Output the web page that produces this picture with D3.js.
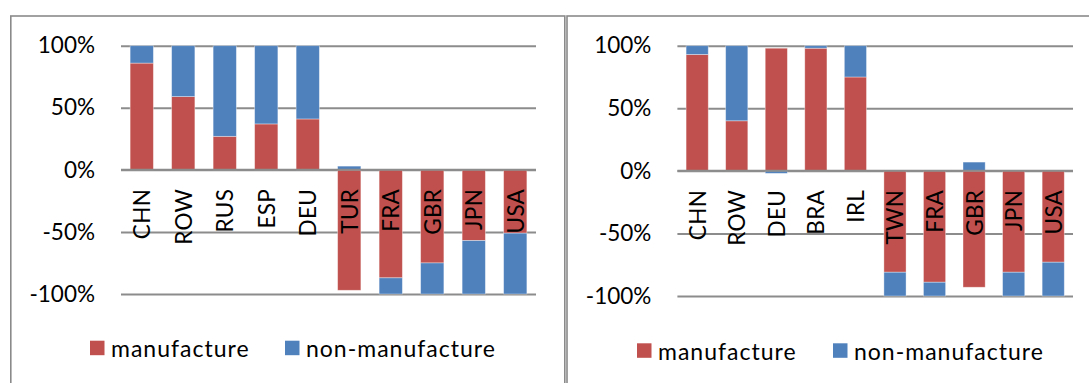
<!DOCTYPE html>
<html>
<head>
<meta charset="utf-8">
<script src="https://cdn.jsdelivr.net/npm/d3@7/dist/d3.min.js"></script>
<style>
  html, body { margin: 0; padding: 0; background: #fff; }
  svg { display: block; }
  text { font-family: Lato, "Open Sans", sans-serif; fill: #000; }
</style>
</head>
<body>
<svg id="chart" width="1089" height="383"></svg>
<script>
// Share of manufacture / non-manufacture, by economy
const seriesNames = ["manufacture", "non-manufacture"];
const yTicks = [-1, -0.5, 0, 0.5, 1];

const leftCategories = ["CHN", "ROW", "RUS", "ESP", "DEU", "TUR", "FRA", "GBR", "JPN", "USA"];
const leftManufacture = [0.86, 0.59, 0.27, 0.37, 0.41, -0.97, -0.87, -0.75, -0.57, -0.51];
const leftNonManufacture = [0.14, 0.41, 0.73, 0.63, 0.59, 0.03, -0.13, -0.25, -0.43, -0.49];

const rightCategories = ["CHN", "ROW", "DEU", "BRA", "IRL", "TWN", "FRA", "GBR", "JPN", "USA"];
const rightManufacture = [0.93, 0.40, 0.98, 0.98, 0.75, -0.81, -0.89, -0.93, -0.81, -0.73];
const rightNonManufacture = [0.07, 0.60, -0.02, 0.02, 0.25, -0.19, -0.11, 0.07, -0.19, -0.27];

const colors = { "manufacture": "#C0504D", "non-manufacture": "#4F81BD" };
const svg = d3.select("#chart");

function drawPanel(opts) {
  const { frame, plot, categories, manufacture, nonManufacture, legend } = opts;

  // panel frame (open at the bottom edge of the page)
  svg.append("rect")
    .attr("x", frame.x).attr("y", frame.y)
    .attr("width", frame.w).attr("height", frame.h)
    .attr("fill", "none").attr("stroke", "#8a8a8a").attr("stroke-width", 1.6);

  const rows = categories.map((c, i) => ({
    category: c,
    "manufacture": manufacture[i],
    "non-manufacture": nonManufacture[i]
  }));

  const x = d3.scaleBand()
    .domain(categories)
    .range([plot.x0, plot.x1])
    .paddingInner(0.44)
    .paddingOuter(0.22);

  const y = d3.scaleLinear()
    .domain([-1, 1])
    .range([plot.yBottom, plot.yTop]);

  const pct = d => Math.round(d * 100) + "%";

  // gridlines + tick labels
  const axis = svg.append("g")
    .attr("transform", `translate(${plot.x0},0)`)
    .call(d3.axisLeft(y)
      .tickValues(yTicks)
      .tickFormat(pct)
      .tickSize(-(plot.x1 - plot.x0))
      .tickPadding(26));
  axis.select(".domain").remove();
  axis.selectAll(".tick line").attr("stroke", "#8c8c8c").attr("stroke-width", 2);
  axis.selectAll(".tick text")
    .attr("font-size", 22.5)
    .attr("font-family", "Lato, sans-serif")
    .attr("fill", "#000");

  const stacked = d3.stack()
    .keys(seriesNames)
    .offset(d3.stackOffsetDiverging)(rows);

  const bars = svg.append("g");
  stacked.forEach(layer => {
    bars.selectAll(null)
      .data(layer)
      .join("rect")
      .attr("x", d => x(d.data.category))
      .attr("width", x.bandwidth())
      .attr("y", d => y(Math.max(d[0], d[1])))
      .attr("height", d => Math.abs(y(d[0]) - y(d[1])))
      .attr("fill", colors[layer.key])
      .attr("stroke", "rgba(255,255,255,0.45)")
      .attr("stroke-width", 0.8);
  });

  // redraw the zero line above the bars
  svg.append("line")
    .attr("x1", plot.x0).attr("x2", plot.x1)
    .attr("y1", y(0)).attr("y2", y(0))
    .attr("stroke", "#8c8c8c").attr("stroke-width", 2);

  // category labels, rotated, hanging below the zero line
  svg.append("g").selectAll("text")
    .data(categories)
    .join("text")
    .attr("transform", d => `translate(${x(d) + x.bandwidth() / 2},${y(0) + 19}) rotate(-90)`)
    .attr("text-anchor", "end")
    .attr("dominant-baseline", "central")
    .attr("font-size", 22.5)
    .attr("letter-spacing", 0.3)
    .text(d => d);

  // legend
  const lg = svg.append("g");
  seriesNames.forEach((name, i) => {
    lg.append("rect")
      .attr("x", legend.x[i]).attr("y", legend.y)
      .attr("width", 14.5).attr("height", 14.5)
      .attr("fill", colors[name]);
    lg.append("text")
      .attr("x", legend.x[i] + 21).attr("y", legend.y + 7.5)
      .attr("dominant-baseline", "central")
      .attr("font-size", 23)
      .attr("letter-spacing", 1)
      .text(name);
  });
}

drawPanel({
  frame: { x: 10.8, y: 16, w: 554, h: 400 },
  plot: { x0: 121, x1: 536, yTop: 45.7, yBottom: 294 },
  categories: leftCategories,
  manufacture: leftManufacture,
  nonManufacture: leftNonManufacture,
  legend: { x: [90, 285], y: 340.7 }
});

drawPanel({
  frame: { x: 567, y: 16, w: 540, h: 400 },
  plot: { x0: 677.4, x1: 1073, yTop: 45.7, yBottom: 296 },
  categories: rightCategories,
  manufacture: rightManufacture,
  nonManufacture: rightNonManufacture,
  legend: { x: [637, 833], y: 343.3 }
});
</script>
</body>
</html>
